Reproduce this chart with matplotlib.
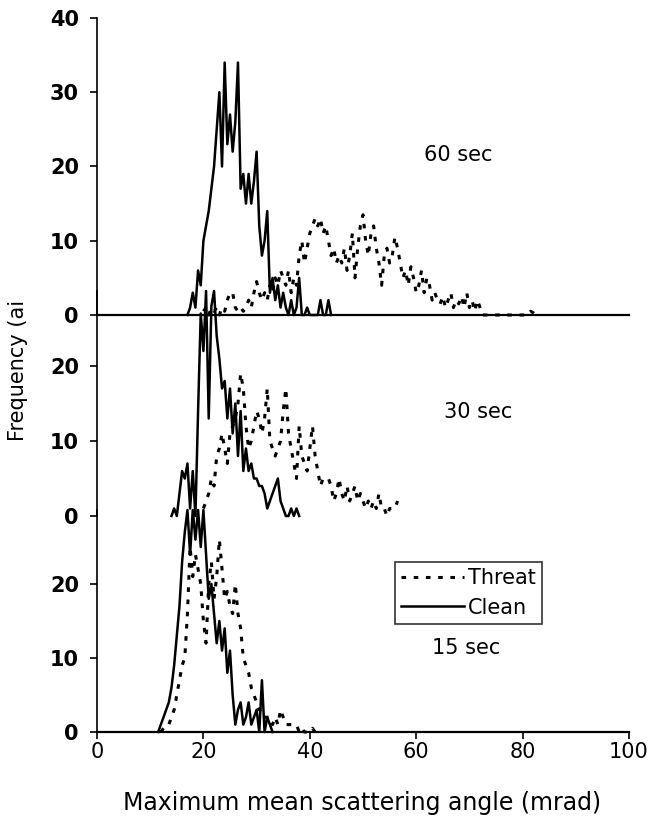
import numpy as np
import matplotlib
matplotlib.use("Agg")
import matplotlib.pyplot as plt
from matplotlib.lines import Line2D

plt.rcParams['font.family'] = ['DejaVu Sans']

# histogram bins are 0.5 mrad wide; each series gives its first bin
BIN = 0.5

# 60 sec
clean_60_start = 17.0
clean_60 = [0, 1, 3, 1, 6, 4, 10, 12, 14, 17,
            20, 25, 30, 20, 34, 23, 27, 22, 26, 34,
            17, 19, 15, 19, 15, 18, 22, 12, 8, 10,
            14, 3, 5, 2, 4, 1, 3, 1, 0, 2,
            0, 1, 5, 0, 0, 1, 0, 0, 0, 0,
            2, 0, 0, 2, 0]
threat_60_start = 20.0
threat_60 = [0.5, 1, 0, 1, 0.5, 1, 0, 1, 0.5, 2,
             3, 3, 1, 0.5, 1, 0.5, 1, 2, 1, 3,
             4.5, 3, 2, 3, 2, 4, 3, 5, 4, 6,
             5, 4, 6, 3, 5, 4, 8, 10, 7, 9,
             11, 12, 13, 12, 13, 11, 12, 10, 8, 9,
             7, 8, 7, 9, 6, 8, 11, 5, 9, 12,
             13.5, 10, 8, 11, 12, 9, 7, 4, 8, 9,
             7, 8, 10.5, 9, 7, 5, 6, 4, 6.5, 5,
             3, 4, 6, 3, 5, 4, 2, 3, 2, 1.5,
             2.5, 1, 2, 3, 1, 2, 1.5, 2.5, 1, 3,
             1, 2, 0.5, 2, 1, 0, 0, 0, 0, 0,
             0, 0, 0, 0, 0, 0, 0, 0, 0, 0,
             0, 0, 0, 0.5, 0.3, 0]

# 30 sec
clean_30_start = 14.0
clean_30 = [0, 1, 0, 3, 6, 5, 7, 1, 6, 0,
            14, 27, 22, 30, 13, 28, 30, 24, 21, 17,
            18, 13, 17, 11, 15, 8, 14, 6, 9, 6,
            7, 5, 5, 4, 4, 3, 1, 2, 3, 4,
            5, 2, 1, 0, 0, 1, 0, 1, 0]
threat_30_start = 20.0
threat_30 = [1, 2, 3, 5, 4, 8, 9, 11, 9, 7,
             11, 12, 13, 15, 19, 17, 12, 9, 10, 12,
             14, 13, 11, 13, 17, 10, 9, 8, 9, 10,
             14, 17, 11, 9, 7, 5, 12, 8, 7, 6,
             9, 12, 8, 6, 4, 5, 5, 5, 4, 2,
             3, 5, 3, 2, 4, 2, 3, 4, 2, 3,
             2, 1, 2, 1, 2, 1, 3, 1, 1, 0,
             1, 1, 1, 2]

# 15 sec
clean_15_start = 11.5
clean_15 = [0, 1, 2, 3, 4, 6, 9, 13, 17, 23,
            27, 30, 24, 30, 26, 30, 25, 30, 24, 18,
            20, 16, 12, 15, 11, 14, 8, 11, 5, 1,
            3, 4, 1, 2, 4, 1, 2, 3, 0, 7,
            0, 2, 1, 0]
threat_15_start = 12.0
threat_15 = [0, 0.5, 1, 1, 2, 3, 5, 7, 9, 10,
             16, 25, 21, 24, 22, 20, 15, 12, 20, 23,
             18, 21, 26, 22, 18, 19, 17, 16, 20, 16,
             14, 10, 9, 8, 6, 5, 4, 3, 3, 2,
             2, 2, 1, 2, 1, 3, 2, 1, 1, 1,
             1, 1, 0, 0.5, 0, 0, 0, 0.5, 0]

panels = [
    ("60 sec", clean_60_start, clean_60, threat_60_start, threat_60),
    ("30 sec", clean_30_start, clean_30, threat_30_start, threat_30),
    ("15 sec", clean_15_start, clean_15, threat_15_start, threat_15),
]

W, H = 651, 821
fig = plt.figure(figsize=(W / 100, H / 100), dpi=100)

# axes boxes in pixels: left, right, top, bottom
boxes = [(97, 629, 18, 315), (97, 629, 291, 516), (97, 629, 510, 732)]
ymax = [40, 30, 30]
label_pos = [(67.9, 21.5), (71.6, 13.9), (69.4, 11.4)]

threat_style = dict(color="black", lw=2.2, linestyle=(0, (1.5, 2.5)), clip_on=False)
clean_style = dict(color="black", lw=1.8, clip_on=False)

axes = []
for i, (name, cs, cv, ts, tv) in enumerate(panels):
    l, r, t, b = boxes[i]
    ax = fig.add_axes([l / W, 1 - b / H, (r - l) / W, (b - t) / H])
    ax.patch.set_visible(False)
    cx = cs + BIN * np.arange(len(cv))
    tx = ts + BIN * np.arange(len(tv))
    ax.plot(tx, tv, **threat_style)
    ax.plot(cx, cv, **clean_style)
    ax.set_xlim(0, 100)
    ax.set_ylim(0, ymax[i])
    ax.set_yticks(np.arange(0, ymax[i] if i else 41, 10))
    for s in ["top", "right"]:
        ax.spines[s].set_visible(False)
    ax.spines["left"].set_linewidth(1.2)
    ax.spines["bottom"].set_linewidth(1.6)
    if i == 1:
        ax.spines["bottom"].set_visible(False)
    ax.tick_params(axis="y", direction="out", length=5, width=1.2, labelsize=15, pad=8)
    for lab in ax.get_yticklabels():
        lab.set_fontweight("bold")
    if i < 2:
        ax.tick_params(axis="x", bottom=False, labelbottom=False)
    else:
        ax.set_xticks(np.arange(0, 101, 20))
        ax.tick_params(axis="x", direction="out", length=5, width=1.2, labelsize=15, pad=2)
    ax.text(label_pos[i][0], label_pos[i][1], name, fontsize=15, ha="center", va="center")
    axes.append(ax)

fig.text(18 / W, 1 - 370 / H, "Frequency (ai", rotation=90, fontsize=15,
         ha="center", va="center")
fig.text(362 / W, 1 - 803 / H, "Maximum mean scattering angle (mrad)", fontsize=17,
         ha="center", va="center")

handles = [Line2D([], [], **{k: v for k, v in threat_style.items() if k != "clip_on"}),
           Line2D([], [], color="black", lw=1.8)]
leg = fig.legend(handles, ["Threat", "Clean"], loc="upper left",
                 bbox_to_anchor=(395 / W, 1 - 562 / H), fontsize=15, frameon=True,
                 fancybox=False, edgecolor="black", handlelength=3.0,
                 handletextpad=0.2, borderpad=0.3, labelspacing=0.45, borderaxespad=0)
leg.get_frame().set_linewidth(1.2)

fig.savefig("out.png", dpi=100)
